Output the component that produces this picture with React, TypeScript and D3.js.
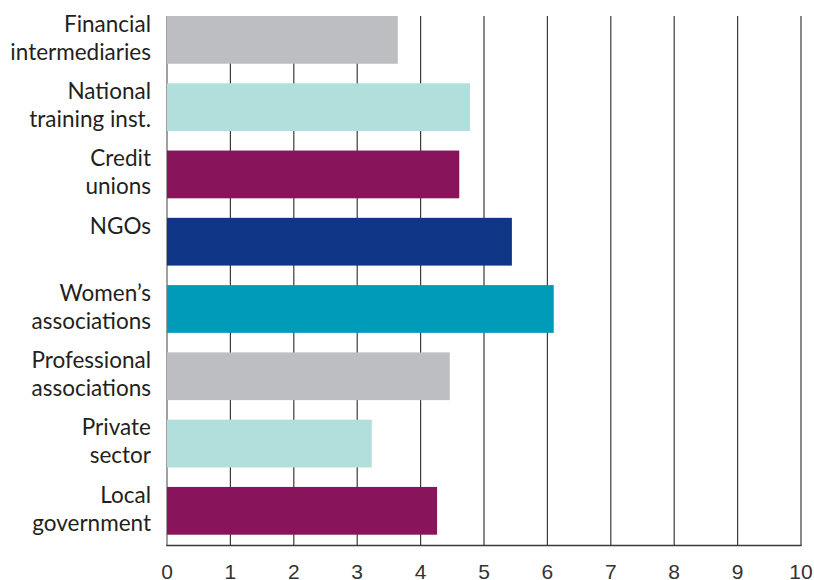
import React from "react";
import * as d3 from "d3";

const categories = [
  ["Financial", "intermediaries"],
  ["National", "training inst."],
  ["Credit", "unions"],
  ["NGOs"],
  ["Women\u2019s", "associations"],
  ["Professional", "associations"],
  ["Private", "sector"],
  ["Local", "government"],
];
const values = [3.64, 4.78, 4.61, 5.44, 6.1, 4.46, 3.23, 4.26];
const colors = ["#BDBEC2", "#B1DFDB", "#88155C", "#0F3686", "#009BB9", "#BDBEC2", "#B1DFDB", "#88155C"];
const ticks = [0, 1, 2, 3, 4, 5, 6, 7, 8, 9, 10];

const W = 814;
const H = 580;

export default function App() {
  const x = d3.scaleLinear().domain([0, 10]).range([167, 801]);
  const y = d3
    .scaleBand<number>()
    .domain(d3.range(categories.length))
    .range([16, 534.7])
    .paddingInner(0.29)
    .paddingOuter(0);
  const axisY = 545.5;
  const font = "Lato, 'Open Sans', sans-serif";
  return (
    <svg width={W} height={H} style={{ position: "absolute", left: 0, top: 0 }}>
      <rect width={W} height={H} fill="#fff" />
      {ticks.map((t) => (
        <line
          key={"g" + t}
          x1={x(t)}
          x2={x(t)}
          y1={16}
          y2={axisY}
          stroke={t === 0 ? "#888" : "#3a3a3a"}
          strokeWidth={t === 0 ? 1.6 : 1.2}
        />
      ))}
      {values.map((v, i) => (
        <rect
          key={"b" + i}
          x={x(0)}
          y={y(i)}
          width={x(v) - x(0)}
          height={y.bandwidth()}
          fill={colors[i]}
        />
      ))}
      <line x1={x(0) - 0.8} x2={x(10) + 0.6} y1={axisY} y2={axisY} stroke="#3a3a3a" strokeWidth={1.4} />
      {ticks.map((t) => (
        <text
          key={"t" + t}
          x={x(t)}
          y={578.5}
          textAnchor="middle"
          fontFamily="'Liberation Sans', Arial, sans-serif"
          fontSize={21}
          fill="#333"
        >
          {t}
        </text>
      ))}
      {categories.map((lines, i) => (
        <text
          key={"c" + i}
          x={151}
          y={(y(i) as number) + 15.7}
          textAnchor="end"
          fontFamily={font}
          fontSize={22.5}
          fill="#231F20"
        >
          {lines.map((l, j) => (
            <tspan key={j} x={151} dy={j === 0 ? 0 : 28}>
              {l}
            </tspan>
          ))}
        </text>
      ))}
    </svg>
  );
}
